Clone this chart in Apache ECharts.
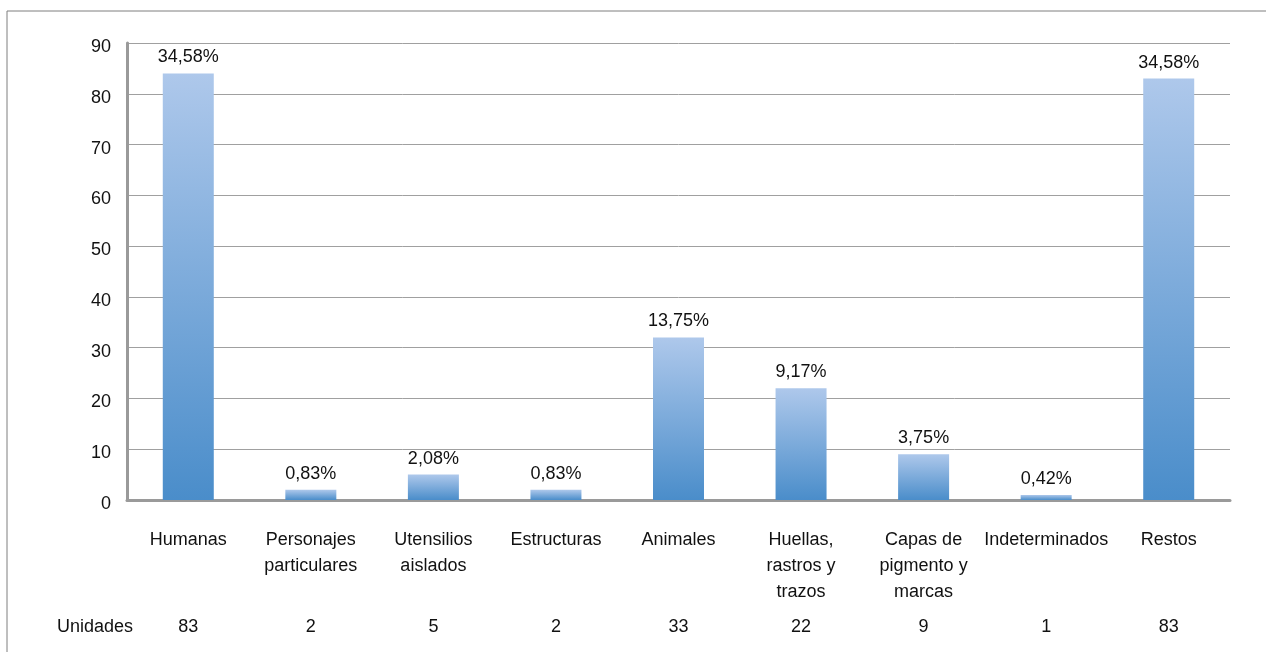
<!DOCTYPE html>
<html>
<head>
<meta charset="utf-8">
<script src="https://cdn.jsdelivr.net/npm/echarts@6/dist/echarts.min.js"></script>
<style>html,body{margin:0;padding:0;background:#fff}#c{width:1266px;height:652px}</style>
</head>
<body>
<div id="c"></div>
<script>
const categories = ['Humanas', 'Personajes\nparticulares', 'Utensilios\naislados', 'Estructuras', 'Animales', 'Huellas,\nrastros y\ntrazos', 'Capas de\npigmento y\nmarcas', 'Indeterminados', 'Restos'];
const barValues = [84, 2, 5, 2, 32, 22, 9, 1, 83];
const pctLabels = ['34,58%', '0,83%', '2,08%', '0,83%', '13,75%', '9,17%', '3,75%', '0,42%', '34,58%'];
const unidades = ['83', '2', '5', '2', '33', '22', '9', '1', '83'];
const tableRowLabel = 'Unidades';

const FONT = '"Liberation Sans", Arial, sans-serif';
const TXT = '#111111';
const chart = echarts.init(document.getElementById('c'), null, {renderer: 'canvas'});
chart.setOption({
  animation: false,
  backgroundColor: '#fff',
  grid: {left: 127, right: 36, top: 43, bottom: 152},
  graphic: [
    {type: 'rect', shape: {x: 7, y: 11, width: 1300, height: 700}, style: {fill: 'none', stroke: '#7f7f7f', lineWidth: 1}, silent: true, z: -10},
    {type: 'text', left: 57, top: 618, style: {text: tableRowLabel, font: '18px ' + FONT, fill: TXT}}
  ],
  xAxis: [
    {
      type: 'category', data: categories, position: 'bottom',
      axisLine: {show: true, lineStyle: {color: '#9a9a9a', width: 3}},
      axisTick: {show: false},
      axisLabel: {interval: 0, margin: 27, fontSize: 18, fontFamily: FONT, color: TXT, lineHeight: 26}
    },
    {
      type: 'category', data: unidades, position: 'bottom',
      axisLine: {show: false}, axisTick: {show: false},
      axisLabel: {interval: 0, margin: 118, fontSize: 18, fontFamily: FONT, color: TXT}
    }
  ],
  yAxis: {
    type: 'value', min: 0, max: 90, interval: 10,
    axisLine: {show: true, lineStyle: {color: '#9a9a9a', width: 3}},
    axisTick: {show: false},
    axisLabel: {margin: 16, fontSize: 18, fontFamily: FONT, color: TXT, verticalAlign: 'top', lineHeight: 8},
    splitLine: {show: true, lineStyle: {color: '#a0a0a0', width: 1}}
  },
  series: [{
    type: 'bar', xAxisIndex: 0, data: barValues, barWidth: 51,
    itemStyle: {
      color: new echarts.graphic.LinearGradient(0, 0, 0, 1, [
        {offset: 0, color: '#aec8eb'},
        {offset: 1, color: '#4a8dca'}
      ])
    },
    label: {
      show: true, position: 'top', distance: 7,
      fontSize: 18, fontFamily: FONT, color: TXT,
      formatter: p => pctLabels[p.dataIndex]
    }
  }]
});
</script>
</body>
</html>
